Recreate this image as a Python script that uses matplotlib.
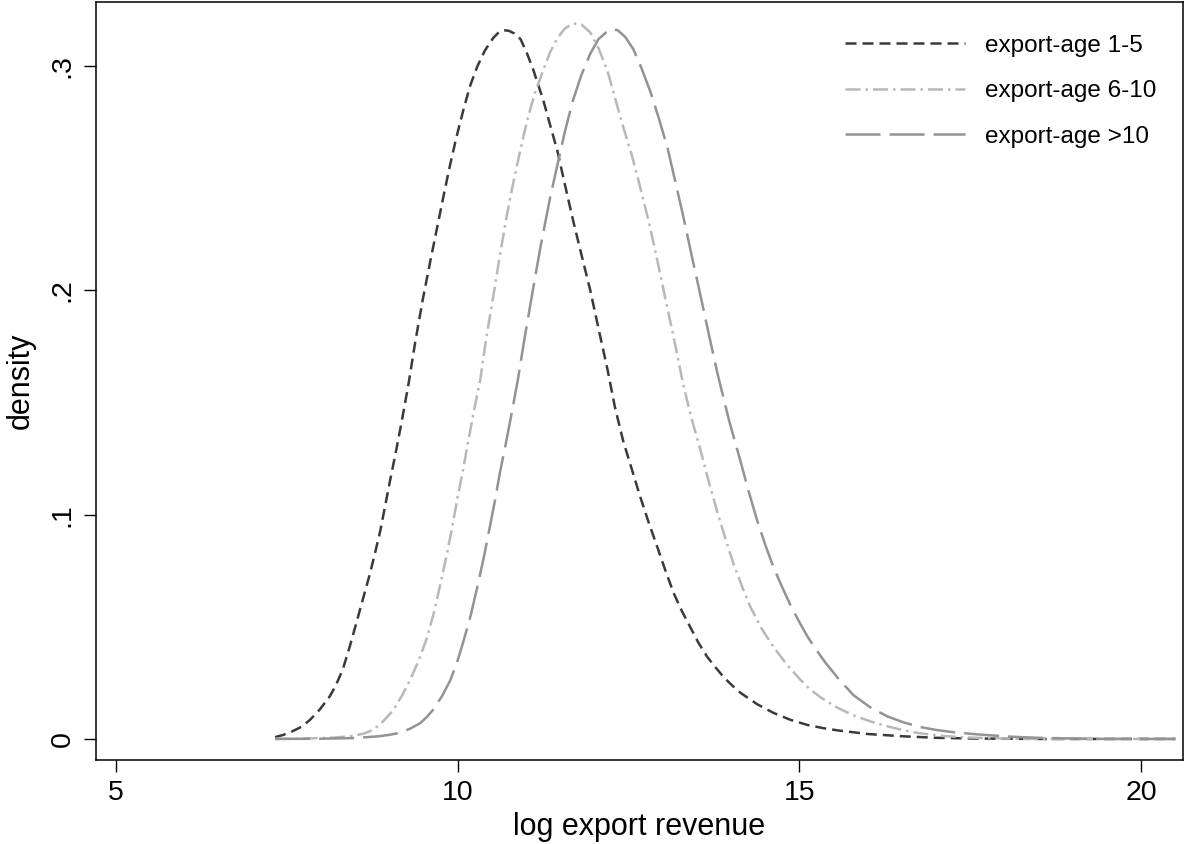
import matplotlib
matplotlib.use("Agg")
import matplotlib.pyplot as plt

plt.rcParams['font.family'] = ['Liberation Sans', 'DejaVu Sans']

# Data
x_age1_5 = [7.33, 7.45, 7.59, 7.72, 7.84, 7.98, 8.13, 8.22, 8.32, 8.42, 8.53, 8.62, 8.72,
            8.80, 8.87, 8.94, 9.01, 9.09, 9.16, 9.28, 9.38, 9.49, 9.60, 9.70, 9.80, 9.89,
            9.98, 10.08, 10.18, 10.29, 10.40, 10.52, 10.60, 10.67, 10.75, 10.83, 10.92,
            11.01, 11.11, 11.18, 11.25, 11.35, 11.46, 11.57, 11.69, 11.81, 11.94, 12.06,
            12.19, 12.30, 12.42, 12.55, 12.67, 12.80, 12.92, 13.04, 13.16, 13.28, 13.40,
            13.52, 13.65, 13.77, 13.89, 14.01, 14.14, 14.38, 14.62, 14.87, 15.12, 15.35,
            15.56, 16.0, 16.5, 17.0, 17.5, 18.5, 20.5]
y_age1_5 = [0.0008, 0.0018, 0.0035, 0.0055, 0.0085, 0.013, 0.019, 0.024, 0.031, 0.041,
            0.053, 0.063, 0.074, 0.084, 0.093, 0.104, 0.115, 0.127, 0.138, 0.158, 0.177,
            0.196, 0.213, 0.228, 0.243, 0.256, 0.268, 0.280, 0.291, 0.300, 0.307, 0.3125,
            0.315, 0.316, 0.3157, 0.3145, 0.312, 0.306, 0.298, 0.2915, 0.285, 0.274, 0.262,
            0.247, 0.231, 0.216, 0.200, 0.183, 0.165, 0.148, 0.133, 0.120, 0.108, 0.096,
            0.0856, 0.075, 0.065, 0.057, 0.050, 0.043, 0.0366, 0.032, 0.0276, 0.024,
            0.0205, 0.0155, 0.0116, 0.0085, 0.0062, 0.0048, 0.0038, 0.0022, 0.0012,
            0.0005, 0.0002, 0.0, 0.0]

x_age6_10 = [7.33, 7.8, 8.2, 8.5, 8.64, 8.76, 8.90, 9.06, 9.18, 9.30, 9.43, 9.55, 9.65,
             9.74, 9.84, 9.93, 10.00, 10.08, 10.15, 10.23, 10.33, 10.42, 10.52, 10.62,
             10.72, 10.80, 10.87, 10.95, 11.02, 11.13, 11.25, 11.35, 11.46, 11.57, 11.69,
             11.81, 11.94, 12.06, 12.19, 12.30, 12.42, 12.55, 12.67, 12.80, 12.92, 13.04,
             13.16, 13.30, 13.42, 13.55, 13.67, 13.80, 13.92, 14.03, 14.16, 14.28, 14.45,
             14.62, 14.82, 15.01, 15.16, 15.31, 15.55, 15.79, 16.04, 16.29, 16.53, 16.77,
             17.1, 17.5, 18.0, 18.5, 20.5]
y_age6_10 = [0.0, 0.0002, 0.0006, 0.0015, 0.0025, 0.004, 0.0075, 0.0129, 0.019, 0.026,
             0.035, 0.045, 0.056, 0.068, 0.082, 0.096, 0.108, 0.120, 0.132, 0.145, 0.160,
             0.179, 0.197, 0.216, 0.2335, 0.246, 0.256, 0.267, 0.276, 0.288, 0.298, 0.306,
             0.3125, 0.3168, 0.3190, 0.3185, 0.315, 0.308, 0.298, 0.286, 0.273, 0.260,
             0.246, 0.230, 0.2135, 0.196, 0.179, 0.158, 0.143, 0.129, 0.115, 0.101, 0.089,
             0.0785, 0.068, 0.059, 0.049, 0.041, 0.033, 0.0265, 0.022, 0.0185, 0.0140,
             0.0105, 0.0078, 0.0056, 0.0038, 0.0025, 0.0013, 0.0006, 0.0002, 0.0, 0.0]

x_age10p = [7.33, 8.0, 8.5, 8.85, 9.0, 9.16, 9.30, 9.45, 9.55, 9.64, 9.77, 9.89, 9.99,
            10.08, 10.19, 10.29, 10.39, 10.48, 10.55, 10.62, 10.70, 10.77, 10.88, 10.97,
            11.06, 11.14, 11.21, 11.28, 11.35, 11.46, 11.57, 11.69, 11.81, 11.94, 12.06,
            12.19, 12.27, 12.34, 12.45, 12.57, 12.69, 12.82, 12.94, 13.07, 13.18, 13.30,
            13.42, 13.55, 13.67, 13.80, 13.97, 14.14, 14.26, 14.38, 14.50, 14.62, 14.75,
            14.87, 15.00, 15.12, 15.25, 15.38, 15.58, 15.79, 16.04, 16.29, 16.53, 16.77,
            17.00, 17.25, 17.5, 17.75, 18.1, 18.48, 19.0, 19.5, 20.5]
y_age10p = [0.0, 0.0001, 0.0004, 0.0012, 0.0018, 0.0028, 0.0045, 0.007, 0.0098, 0.013,
            0.019, 0.026, 0.034, 0.043, 0.055, 0.068, 0.082, 0.096, 0.107, 0.119, 0.131,
            0.142, 0.160, 0.177, 0.193, 0.207, 0.219, 0.230, 0.241, 0.256, 0.271, 0.285,
            0.296, 0.3055, 0.312, 0.3155, 0.3163, 0.3160, 0.313, 0.3075, 0.299, 0.2885,
            0.277, 0.2635, 0.249, 0.233, 0.216, 0.198, 0.181, 0.163, 0.142, 0.1235, 0.110,
            0.0975, 0.0865, 0.0765, 0.0675, 0.0595, 0.052, 0.0455, 0.0395, 0.034, 0.0265,
            0.0195, 0.0140, 0.0100, 0.0073, 0.0053, 0.0040, 0.0030, 0.0023, 0.0017,
            0.0010, 0.0005, 0.0002, 0.0, 0.0]

labels = ["export-age 1-5", "export-age 6-10", "export-age >10"]
xticks = [5, 10, 15, 20]
yticks = [0, 0.1, 0.2, 0.3]
yticklabels = ["0", ".1", ".2", ".3"]

fig = plt.figure(figsize=(11.97, 8.44), dpi=100)
ax = fig.add_axes([0.0802, 0.0995, 0.9081, 0.898])

ax.plot(x_age1_5, y_age1_5, color="#3a3a3a", lw=1.8, dashes=(4.4, 2.4), label=labels[0])
ax.plot(x_age6_10, y_age6_10, color="#b8b8b8", lw=1.8, dashes=(6, 2, 1, 2), label=labels[1])
ax.plot(x_age10p, y_age10p, color="#939393", lw=1.8, dashes=(14, 3.6), label=labels[2])

ax.set_xlim(4.71, 20.61)
ax.set_ylim(-0.0094, 0.3285)
ax.set_xticks(xticks)
ax.set_xticklabels([str(t) for t in xticks], fontsize=20.5)
ax.set_yticks(yticks)
ax.set_yticklabels(yticklabels, fontsize=20.5, rotation=90, va="center")
ax.tick_params(direction="out", length=8.5, width=1.0, colors="black", pad=6)
for s in ax.spines.values():
    s.set_linewidth(1.1)

ax.set_xlabel("log export revenue", fontsize=22, labelpad=4)
ax.set_ylabel("density", fontsize=22, labelpad=10)

leg = ax.legend(loc="upper left", frameon=False, fontsize=17.5, handlelength=4.94,
                handletextpad=0.82, labelspacing=0.97, borderpad=0, borderaxespad=0,
                bbox_to_anchor=(0.689, 0.957))

fig.savefig("out.png", dpi=100)
